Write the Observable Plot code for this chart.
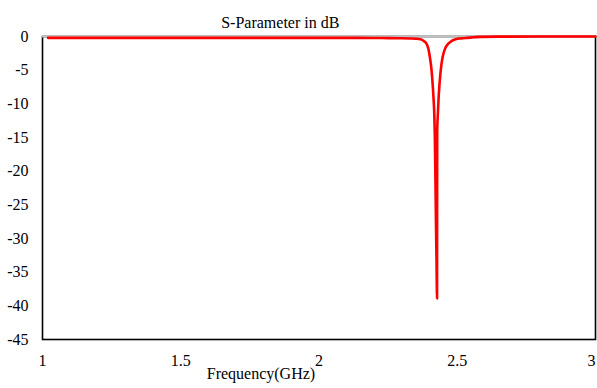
<!DOCTYPE html>
<html>
<head>
<meta charset="utf-8">
<script src="https://cdn.jsdelivr.net/npm/d3@7"></script>
<script src="https://cdn.jsdelivr.net/npm/@observablehq/plot@0.6"></script>
<style>
  html, body { margin: 0; padding: 0; background: #fff; }
  #chart svg { display: block; }
  #chart svg, #chart svg text { font-family: "Liberation Serif", "DejaVu Serif", serif !important; }
</style>
</head>
<body>
<div id="chart"></div>
<script>
const title = "S-Parameter in dB";
const xLabel = "Frequency(GHz)";
const xTicks = [1, 1.5, 2, 2.5];
const xLastTick = [3];
const yTicks = [0, -5, -10, -15, -20, -25, -30, -35, -40, -45];

const freq = [1.02, 1.2, 1.4, 1.6, 1.8, 2.0, 2.1, 2.2, 2.25, 2.3, 2.33, 2.35, 2.367, 2.38, 2.389, 2.396, 2.401, 2.406, 2.410, 2.414, 2.417, 2.419, 2.421, 2.423, 2.425, 2.427, 2.4272, 2.4275, 2.430, 2.433, 2.437, 2.442, 2.447, 2.456, 2.468, 2.48, 2.494, 2.515, 2.537, 2.56, 2.584, 2.65, 2.8, 3.0];
const s11 = [-0.2, -0.2, -0.2, -0.2, -0.2, -0.2, -0.2, -0.22, -0.24, -0.27, -0.3, -0.33, -0.4, -0.7, -1.08, -1.9, -3.08, -4.6, -6.5, -9.0, -11.6, -15, -21, -27.5, -33.3, -38.9, -25, -14, -11.4, -8.8, -6.5, -4.4, -3.08, -1.8, -1.04, -0.65, -0.4, -0.28, -0.2, -0.12, -0.05, -0.02, 0, 0];

const data = freq.map((f, i) => ({f, v: s11[i]}));

const fmt = d => String(d);

const chart = Plot.plot({
  width: 597,
  height: 388,
  marginLeft: 42,
  marginRight: 2,
  marginTop: 36,
  marginBottom: 49,
  style: {fontSize: "16px", color: "#000", background: "#fff"},
  x: {domain: [1, 3], label: null, axis: null},
  y: {domain: [-45, 0], ticks: yTicks, tickSize: 0, tickPadding: 14, tickFormat: fmt, label: null},
  marks: [
    Plot.axisX(xTicks, {tickSize: 0, tickPadding: 15, tickFormat: fmt, label: null}),
    Plot.axisX(xLastTick, {tickSize: 0, tickPadding: 15, tickFormat: fmt, textAnchor: "end", dx: 0, label: null}),
    Plot.frame({stroke: "#000", strokeWidth: 1.6}),
    Plot.ruleY([0], {stroke: "#c0c0c0", strokeWidth: 2}),
    Plot.line(data, {x: "f", y: "v", stroke: "#ff0000", strokeWidth: 2.6, curve: "monotone-x"}),
    Plot.text([{t: title, x: 1.86}], {x: "x", text: "t", frameAnchor: "top", dy: -20, fontSize: 16, fill: "#000"}),
    Plot.text([{t: xLabel, x: 1.79}], {x: "x", text: "t", frameAnchor: "bottom", dy: 39, fontSize: 16, fill: "#000"})
  ]
});
document.getElementById("chart").appendChild(chart);
</script>
</body>
</html>
